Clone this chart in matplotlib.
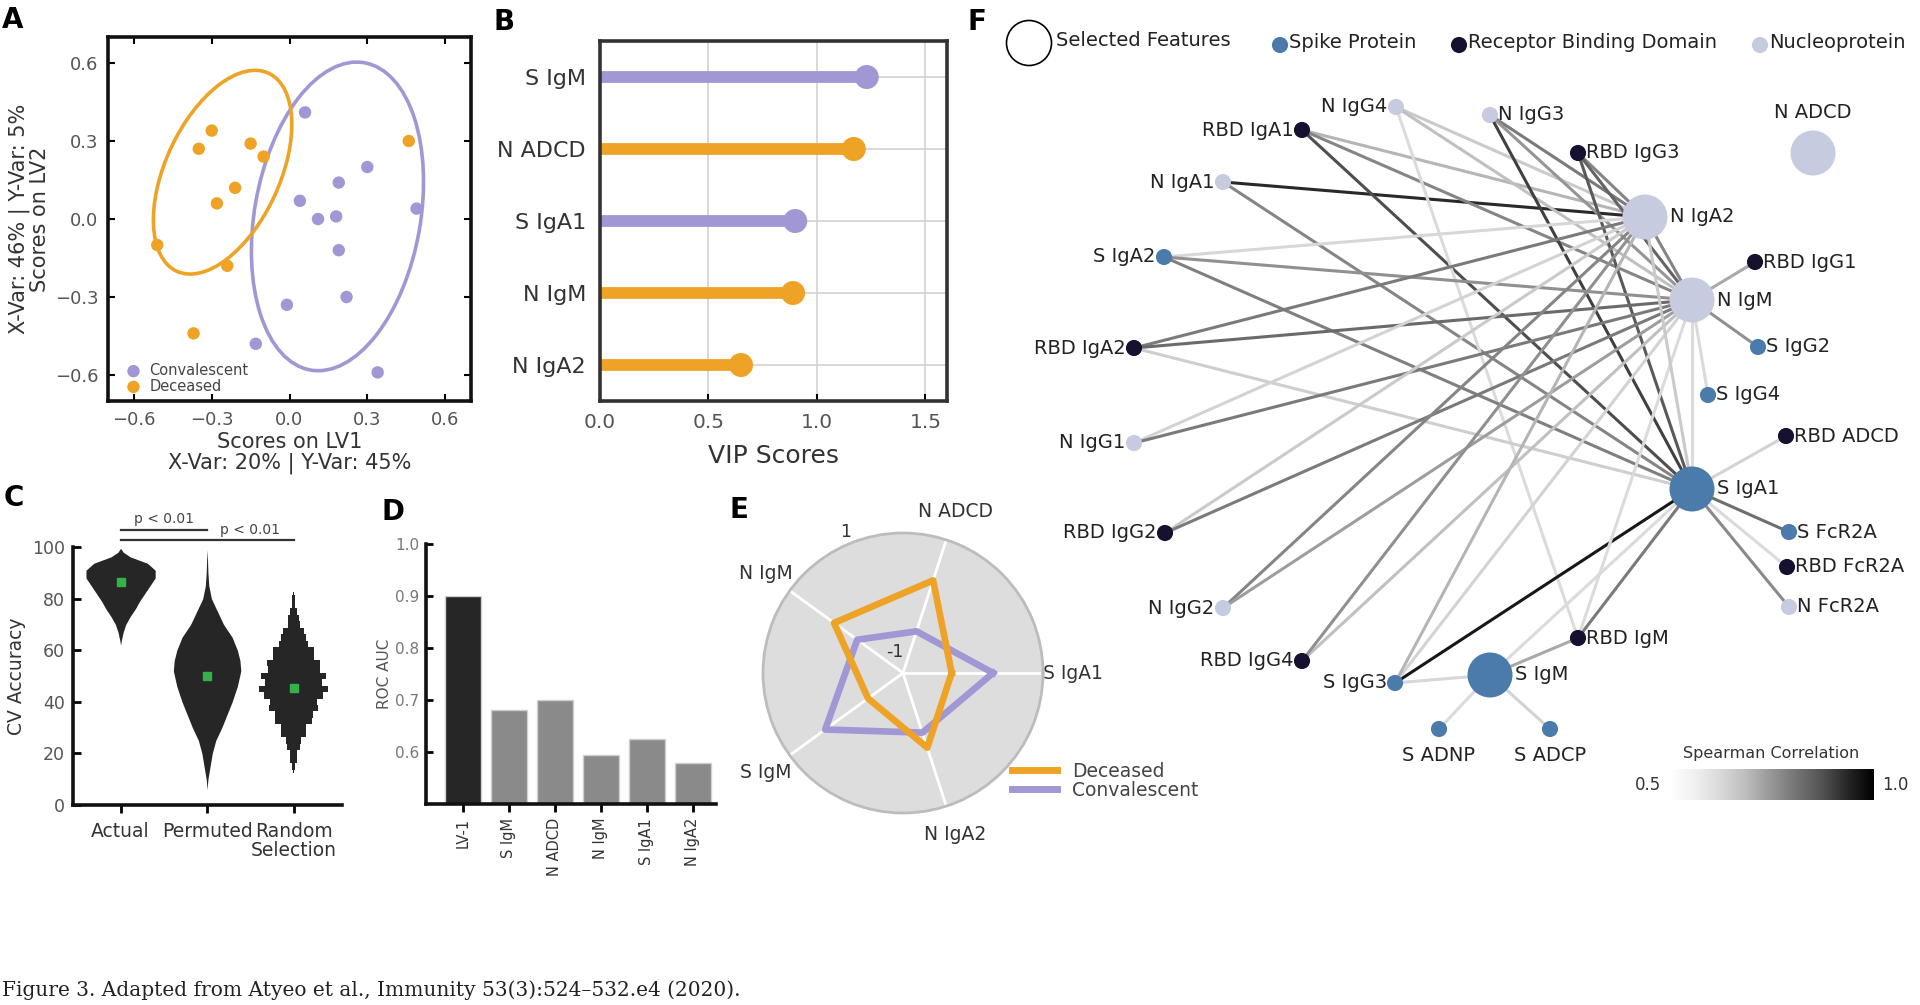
import numpy as np
import matplotlib
matplotlib.use('Agg')
import matplotlib.pyplot as plt
from matplotlib.patches import Ellipse
from matplotlib.lines import Line2D
from matplotlib import cm, colors as mcolors

plt.rcParams['font.family'] = ['DejaVu Sans']

# ---------------- data ----------------
# A: PLS-DA scores
conv_x = [0.06, 0.30, 0.19, 0.04, 0.11, 0.18, 0.19, 0.22, -0.01, -0.13, 0.34, 0.49]
conv_y = [0.41, 0.20, 0.14, 0.07, 0.00, 0.01, -0.12, -0.30, -0.33, -0.48, -0.59, 0.04]
dec_x = [-0.30, -0.35, -0.15, -0.10, -0.21, -0.28, -0.51, -0.24, -0.37, 0.46]
dec_y = [0.34, 0.27, 0.29, 0.24, 0.12, 0.06, -0.10, -0.18, -0.44, 0.30]
# confidence ellipses: centre x, centre y, major, minor, angle
conv_ellipse = [0.185, 0.01, 1.20, 0.64, 80]
dec_ellipse = [-0.258, 0.18, 0.84, 0.44, 65]

# B: VIP scores
vip_labels = ['S IgM', 'N ADCD', 'S IgA1', 'N IgM', 'N IgA2']
vip_scores = [1.23, 1.17, 0.90, 0.89, 0.65]
vip_group = ['Convalescent', 'Deceased', 'Convalescent', 'Deceased', 'Deceased']

# C: CV accuracy violins (accuracy level, half width)
cv_labels = ['Actual', 'Permuted', 'Random\nSelection']
actual_y = [62, 64, 67, 70, 73, 76, 79, 82, 85, 88, 91, 93.7, 96.2, 98, 99.5]
actual_hw = [0.0, 0.01, 0.03, 0.06, 0.11, 0.17, 0.22, 0.28, 0.34, 0.40, 0.40, 0.31, 0.11, 0.03, 0.0]
perm_y = [6, 10, 15, 20, 25, 30, 35, 40, 46, 52, 56, 60, 65, 70, 75, 80, 85, 90, 95, 99]
perm_hw = [0.0, 0.01, 0.035, 0.06, 0.10, 0.17, 0.23, 0.29, 0.35, 0.39, 0.38, 0.35, 0.29, 0.19,
           0.12, 0.05, 0.02, 0.01, 0.005, 0.0]
rand_y = [12.5, 15, 17.5, 20, 22.5, 25, 27.5, 30, 32.5, 35, 37.5, 40, 42.5, 45, 47.5, 50, 52.5,
          55, 57.5, 60, 62.5, 65, 67.5, 70, 72.5, 75, 77.5, 80, 82.5]
rand_hw = [0.01, 0.02, 0.04, 0.04, 0.08, 0.09, 0.14, 0.14, 0.21, 0.22, 0.28, 0.27, 0.34, 0.40,
           0.33, 0.38, 0.30, 0.31, 0.24, 0.24, 0.17, 0.14, 0.12, 0.07, 0.06, 0.04, 0.02, 0.015, 0.005]
cv_medians = [86.3, 50.0, 45.5]

# D: ROC AUC
auc_labels = ['LV-1', 'S IgM', 'N ADCD', 'N IgM', 'S IgA1', 'N IgA2']
auc_values = [0.90, 0.68, 0.70, 0.595, 0.625, 0.578]

# E: radar (z-scored means)
radar_labels = ['S IgA1', 'N ADCD', 'N IgM', 'S IgM', 'N IgA2']
radar_deceased = [-0.50, 0.30, 0.10, -0.59, -0.01]
radar_convalescent = [0.18, -0.58, -0.37, 0.28, -0.27]

# F: co-correlation network (layout coordinates)
node_names = ['N IgG4', 'N IgG3', 'RBD IgA1', 'RBD IgG3', 'N ADCD', 'N IgA1', 'N IgA2', 'S IgA2',
              'RBD IgG1', 'N IgM', 'S IgG2', 'RBD IgA2', 'S IgG4', 'RBD ADCD', 'N IgG1', 'S IgA1',
              'RBD IgG2', 'S FcR2A', 'RBD FcR2A', 'N FcR2A', 'N IgG2', 'RBD IgM', 'RBD IgG4',
              'S IgG3', 'S IgM', 'S ADNP', 'S ADCP']
node_x = [396, 490, 302, 578, 813, 223, 645, 164, 755, 692, 758, 134, 708, 786, 134, 692,
          165, 789, 787, 789, 223, 578, 302, 395, 490, 439, 550]
node_y = [107, 115, 130, 153, 153, 182, 217, 257, 262, 300, 347, 348, 395, 436, 443, 489,
          533, 532, 567, 607, 608, 638, 661, 683, 675, 729, 729]
node_antigen = ['N', 'N', 'RBD', 'RBD', 'N', 'N', 'N', 'S', 'RBD', 'N', 'S', 'RBD', 'S', 'RBD',
                'N', 'S', 'RBD', 'S', 'RBD', 'N', 'N', 'RBD', 'RBD', 'S', 'S', 'S', 'S']
selected = ['N ADCD', 'N IgA2', 'N IgM', 'S IgA1', 'S IgM']
label_side = ['l', 'r', 'l', 'r', 't', 'l', 'r', 'l', 'r', 'r', 'r', 'l', 'r', 'r', 'l', 'r',
              'l', 'r', 'r', 'r', 'l', 'r', 'l', 'l', 'r', 'b', 'b']
edges = [
    ('N IgA1', 'N IgA2', 0.93), ('N IgA1', 'S IgA1', 0.78),
    ('RBD IgA1', 'N IgA2', 0.70), ('RBD IgA1', 'N IgM', 0.78), ('RBD IgA1', 'S IgA1', 0.88),
    ('N IgG4', 'N IgA2', 0.66), ('N IgG4', 'N IgM', 0.68), ('N IgG4', 'RBD IgM', 0.62),
    ('N IgG3', 'N IgA2', 0.80), ('N IgG3', 'N IgM', 0.75), ('N IgG3', 'S IgA1', 0.90),
    ('RBD IgG3', 'N IgA2', 0.78), ('RBD IgG3', 'N IgM', 0.84), ('RBD IgG3', 'S IgA1', 0.86),
    ('S IgA2', 'N IgA2', 0.63), ('S IgA2', 'N IgM', 0.76), ('S IgA2', 'S IgA1', 0.79),
    ('RBD IgA2', 'N IgA2', 0.80), ('RBD IgA2', 'N IgM', 0.83), ('RBD IgA2', 'S IgA1', 0.65),
    ('N IgG1', 'N IgA2', 0.64), ('N IgG1', 'N IgM', 0.80),
    ('RBD IgG2', 'N IgA2', 0.66), ('RBD IgG2', 'N IgM', 0.80),
    ('N IgG2', 'N IgA2', 0.78), ('N IgG2', 'N IgM', 0.74),
    ('RBD IgG4', 'N IgM', 0.68), ('RBD IgG4', 'N IgA2', 0.76),
    ('S IgG3', 'S IgA1', 0.96), ('S IgG3', 'N IgM', 0.64), ('S IgG3', 'N IgA2', 0.70),
    ('S IgG3', 'S IgM', 0.63),
    ('RBD IgM', 'S IgA1', 0.80), ('RBD IgM', 'S IgM', 0.72), ('RBD IgM', 'N IgM', 0.62),
    ('S IgM', 'S IgA1', 0.62), ('S IgM', 'S ADNP', 0.62), ('S IgM', 'S ADCP', 0.64),
    ('N IgA2', 'N IgM', 0.78), ('N IgM', 'S IgA1', 0.62), ('N IgA2', 'S IgA1', 0.66),
    ('RBD IgG1', 'N IgM', 0.72), ('S IgG2', 'N IgM', 0.76), ('S IgG4', 'N IgM', 0.62),
    ('RBD ADCD', 'S IgA1', 0.64), ('S FcR2A', 'S IgA1', 0.82), ('RBD FcR2A', 'S IgA1', 0.62),
    ('N FcR2A', 'S IgA1', 0.77),
]

# ---------------- styling ----------------
W, H = 1920, 1005
ORANGE = '#eea327'
PURPLE = '#a297d5'
group_color = {'Convalescent': PURPLE, 'Deceased': ORANGE}
antigen_color = {'S': '#4a7bab', 'RBD': '#15112e', 'N': '#c6cbe0'}
TXT = '#333333'
TICK = '#555555'


def box(l, t, r, b):
    return [l / W, 1 - b / H, (r - l) / W, (b - t) / H]


fig = plt.figure(figsize=(W / 100, H / 100), dpi=100)

# ---------------- A ----------------
ax = fig.add_axes(box(108, 37, 471, 401))
for (cx, cy, w, h, a), col in [(conv_ellipse, PURPLE), (dec_ellipse, ORANGE)]:
    ax.add_patch(Ellipse((cx, cy), w, h, angle=a, fill=False, edgecolor=col, lw=2.6))
ax.scatter(conv_x, conv_y, s=80, color=PURPLE, label='Convalescent', zorder=3, edgecolors='none')
ax.scatter(dec_x, dec_y, s=80, color=ORANGE, label='Deceased', zorder=3, edgecolors='none')
ax.set_xlim(-0.7, 0.7)
ax.set_ylim(-0.7, 0.7)
ticks = [-0.6, -0.3, 0.0, 0.3, 0.6]
ax.set_xticks(ticks)
ax.set_yticks(ticks)
ax.tick_params(direction='in', top=True, right=True, length=5, width=1.5,
               labelsize=13, labelcolor=TICK, pad=7)
for s in ax.spines.values():
    s.set_linewidth(2.6)
    s.set_color('#111111')
ax.set_xlabel('Scores on LV1\nX-Var: 20% | Y-Var: 45%', fontsize=15, color=TXT,
              linespacing=1.05, labelpad=2)
ax.set_ylabel('X-Var: 46% | Y-Var: 5%\nScores on LV2', fontsize=15, color=TXT,
              linespacing=1.05, labelpad=3)
ax.legend(loc='lower left', bbox_to_anchor=(0.03, 0.02), frameon=False, fontsize=10.5,
          handletextpad=0.1, labelspacing=0.05, borderaxespad=0, borderpad=0,
          labelcolor='#444444', markerscale=1.0)

# ---------------- B ----------------
ax = fig.add_axes(box(600, 41, 947, 401))
ypos = np.arange(1, len(vip_labels) + 1)
for y, v, g in zip(ypos, vip_scores, vip_group):
    ax.hlines(y, 0, v, color=group_color[g], lw=8.5, zorder=2)
    ax.scatter(v, y, s=300, color=group_color[g], zorder=3, edgecolors='none')
ax.set_xlim(0, 1.6)
ax.set_ylim(len(vip_labels) + 0.5, 0.5)
ax.set_yticks(ypos)
ax.set_yticklabels(vip_labels)
ax.set_xticks([0, 0.5, 1.0, 1.5])
ax.set_xticklabels(['0.0', '0.5', '1.0', '1.5'])
ax.grid(True, color='#d2d2d2', lw=1.2, zorder=0)
ax.set_axisbelow(True)
ax.tick_params(axis='y', length=0, labelsize=16, labelcolor=TXT, pad=10)
ax.tick_params(axis='x', direction='in', length=5, width=1.5, labelsize=14.5,
               labelcolor=TICK, pad=9)
for s in ax.spines.values():
    s.set_linewidth(2.6)
    s.set_color('#333333')
ax.set_xlabel('VIP Scores', fontsize=18, color=TXT, labelpad=8)

# ---------------- C ----------------
ax = fig.add_axes(box(73, 547, 342, 805))
for i, (yy, hw) in enumerate([(actual_y, actual_hw), (perm_y, perm_hw)]):
    c = i + 1
    ax.fill_betweenx(yy, c - np.array(hw), c + np.array(hw), color='#262626', lw=0)
ax.fill_betweenx(rand_y, 3 - np.array(rand_hw), 3 + np.array(rand_hw), color='#262626', lw=0,
                 step='mid')
ax.plot([1, 2, 3], cv_medians, 's', color='#35b14a', markersize=6, zorder=3)
ax.set_xlim(0.45, 3.56)
ax.set_ylim(0, 100)
ax.set_yticks(range(0, 101, 20))
ax.set_xticks([1, 2, 3])
ax.set_xticklabels(cv_labels, linespacing=1.0)
ax.tick_params(axis='y', direction='in', length=6, width=2, labelsize=12.5, labelcolor=TICK, pad=6)
ax.tick_params(axis='x', direction='out', length=6, width=2, labelsize=13.5, labelcolor=TXT, pad=6)
for side in ['top', 'right']:
    ax.spines[side].set_visible(False)
for side in ['left', 'bottom']:
    ax.spines[side].set_linewidth(2.6)
    ax.spines[side].set_color('#111111')
ax.set_ylabel('CV Accuracy', fontsize=13.5, color=TXT, labelpad=4)
# significance brackets
for (x0, x1, yb) in [(1, 2, 106.6), (1, 3, 102.7)]:
    ax.plot([x0, x1], [yb, yb], color='#333333', lw=1.6, clip_on=False)
ax.text(1.5, 108.0, 'p < 0.01', ha='center', va='bottom', fontsize=10, color='#444444')
ax.text(2.5, 104.0, 'p < 0.01', ha='center', va='bottom', fontsize=10, color='#444444')

# ---------------- D ----------------
ax = fig.add_axes(box(426, 544, 716, 804))
xb = np.arange(len(auc_labels))
bar_cols = ['#262626'] + ['#8a8a8a'] * (len(auc_labels) - 1)
ax.bar(xb, auc_values, width=0.78, color=bar_cols, edgecolor='#cfcfcf', lw=1)
ax.set_ylim(0.5, 1.0)
ax.set_xlim(-0.8, len(auc_labels) - 0.5)
ax.set_yticks([0.6, 0.7, 0.8, 0.9, 1.0])
ax.set_xticks(xb)
ax.set_xticklabels(auc_labels, rotation=90)
ax.tick_params(axis='y', direction='in', length=5, width=2, labelsize=11, labelcolor='#777777', pad=5)
ax.tick_params(axis='x', direction='out', length=6, width=2, labelsize=10.5, labelcolor=TXT, pad=4)
for side in ['top', 'right']:
    ax.spines[side].set_visible(False)
for side in ['left', 'bottom']:
    ax.spines[side].set_linewidth(2.6)
    ax.spines[side].set_color('#111111')
ax.set_ylabel('ROC AUC', fontsize=11, color='#555555', labelpad=2)

# ---------------- E ----------------
ax = fig.add_axes(box(763, 533, 1043, 813), projection='polar')
ang = np.linspace(0, 2 * np.pi, len(radar_labels), endpoint=False)
ang_c = np.append(ang, ang[0])
ax.plot(ang_c, radar_convalescent + radar_convalescent[:1], color=PURPLE, lw=4.8, zorder=3)
ax.plot(ang_c, radar_deceased + radar_deceased[:1], color=ORANGE, lw=4.8, zorder=4)
ax.set_ylim(-1.3, 1)
ax.set_facecolor('#dddddd')
ax.spines['polar'].set_color('#bcbcbc')
ax.spines['polar'].set_linewidth(2)
ax.set_yticks([])
ax.set_xticks(ang)
ax.set_xticklabels(radar_labels, fontsize=13.5, color=TXT)
ax.tick_params(axis='x', pad=11)
ax.xaxis.grid(True, color='white', lw=2)
for r in [-1, 1]:
    ax.text(np.deg2rad(112), r + (0.2 if r > 0 else 0.08), str(r), fontsize=12.5, color=TXT,
            ha='center', va='center')
fig.legend(handles=[Line2D([], [], color=ORANGE, lw=5), Line2D([], [], color=PURPLE, lw=5)],
           labels=['Deceased', 'Convalescent'], loc='upper left',
           bbox_to_anchor=(1012 / W, 1 - 762 / H), frameon=False, fontsize=13.5,
           handlelength=2.4, labelspacing=0.0, handletextpad=0.8, labelcolor='#444444',
           borderaxespad=0, borderpad=0)

# ---------------- F ----------------
ax = fig.add_axes(box(1000, 0, 1920, 820))
ax.set_xlim(0, 920)
ax.set_ylim(820, 0)
ax.axis('off')
pos = {n: (x, y) for n, x, y in zip(node_names, node_x, node_y)}
cmap = plt.get_cmap('Greys')
norm = mcolors.Normalize(0.5, 1.0)
for a, b, v in edges:
    (x1, y1), (x2, y2) = pos[a], pos[b]
    ax.plot([x1, x2], [y1, y2], color=cmap(norm(v)), lw=2.2, zorder=1, solid_capstyle='round')
sizes = [1050 if n in selected else 135 for n in node_names]
ax.scatter(node_x, node_y, s=sizes, c=[antigen_color[a] for a in node_antigen],
           zorder=3, edgecolors='none')
offs = {'l': (-1, 0, 'right', 'center'), 'r': (1, 0, 'left', 'center'),
        't': (0, 1, 'center', 'bottom'), 'b': (0, -1, 'center', 'top')}
for n, x, y, side in zip(node_names, node_x, node_y, label_side):
    dx, dy, ha, va = offs[side]
    d = 18 if n in selected else 6
    if side in 'tb':
        d = 22 if n in selected else 12
    ax.annotate(n, (x, y), xytext=(dx * d, dy * d), textcoords='offset points',
                ha=ha, va=va, fontsize=14, color='#222222', zorder=4)
# legend
leg_items = [('Selected Features', None), ('Spike Protein', 'S'),
             ('Receptor Binding Domain', 'RBD'), ('Nucleoprotein', 'N')]
leg_x = [29, 280, 459, 760]
for (lab, key), lx in zip(leg_items, leg_x):
    if key is None:
        ax.scatter(lx, 43, s=1050, facecolors='none', edgecolors='black', lw=1.2, clip_on=False)
        ax.text(lx + 27, 40, lab, fontsize=14, color='#222222', ha='left', va='center')
    else:
        ax.scatter(lx, 45, s=135, color=antigen_color[key], edgecolors='none', clip_on=False)
        ax.text(lx + 9, 43, lab, fontsize=14, color='#222222', ha='left', va='center')

# colour bar
cax = fig.add_axes(box(1669, 769, 1874, 800))
cb = fig.colorbar(cm.ScalarMappable(norm=norm, cmap=cmap), cax=cax, orientation='horizontal')
cb.set_ticks([])
cb.outline.set_visible(False)
cax.text(0.5, 1.25, 'Spearman Correlation', transform=cax.transAxes, ha='center', va='bottom',
         fontsize=11.5, color='#333333')
cax.text(-0.04, 0.5, '0.5', transform=cax.transAxes, ha='right', va='center', fontsize=12,
         color='#333333')
cax.text(1.04, 0.5, '1.0', transform=cax.transAxes, ha='left', va='center', fontsize=12,
         color='#333333')

# ---------------- panel letters & caption ----------------
for lab, x, y in [('A', 2, 20), ('B', 493, 22), ('C', 4, 498), ('D', 381, 512),
                  ('E', 730, 510), ('F', 968, 22)]:
    fig.text(x / W, 1 - y / H, lab, fontsize=20, fontweight='bold', va='center', ha='left')
fig.text(2 / W, 1 - 990 / H,
         'Figure 3. Adapted from Atyeo et al., Immunity 53(3):524\u2013532.e4 (2020).',
         fontsize=14.5, family='DejaVu Serif', color='#222222', va='center', ha='left')

fig.savefig('out.png', dpi=100)
